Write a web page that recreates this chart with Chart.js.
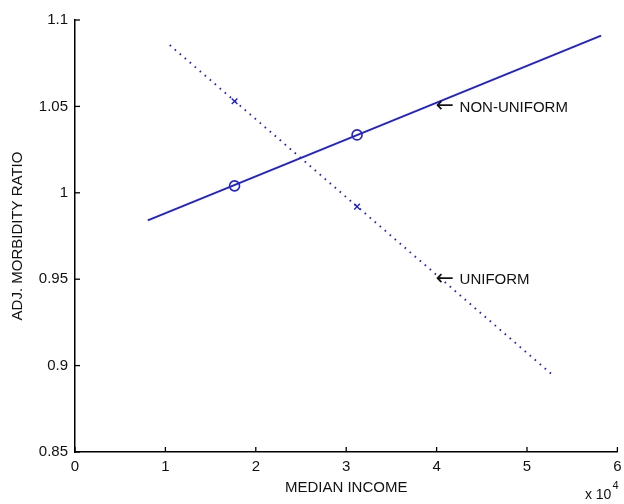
<!DOCTYPE html>
<html>
<head>
<meta charset="utf-8">
<script src="https://cdn.jsdelivr.net/npm/chart.js@4"></script>
<style>
  html, body { margin: 0; padding: 0; background: #fff; }
  #wrap { width: 624px; height: 504px; }
</style>
</head>
<body>
<div id="wrap"><canvas id="myChart"></canvas></div>
<script>
// values (x in units of 10^4)
var nonUniformLineX = [0.805, 5.82];
var nonUniformLineY = [0.984, 1.091];
var nonUniformPtsX = [1.765, 3.12];
var nonUniformPtsY = [1.004, 1.0335];
var uniformLineX = [1.048, 5.305];
var uniformLineY = [1.0855, 0.8936];
var uniformPtsX = [1.765, 3.12];
var uniformPtsY = [1.053, 0.992];
var xTicks = [0, 1, 2, 3, 4, 5, 6];
var yTicks = [0.85, 0.9, 0.95, 1, 1.05, 1.1];
var notes = [
    { text: 'NON-UNIFORM', x: 4.0, y: 1.05 },
    { text: 'UNIFORM', x: 4.0, y: 0.95 }
];

var blue = '#2020d8';
var fontFam = '"Liberation Sans", Arial, "DejaVu Sans", sans-serif';

function pts(xs, ys) {
    var out = [];
    for (let i = 0; i < xs.length; i++) out.push({ x: xs[i], y: ys[i] });
    return out;
}

// inward ticks, annotations and the x10^4 exponent
var extras = {
    id: 'extras',
    afterDraw: function(chart) {
        var ctx = chart.ctx, sx = chart.scales.x, sy = chart.scales.y;
        var area = chart.chartArea;
        ctx.save();
        ctx.strokeStyle = '#000';
        ctx.lineWidth = 1.3;
        xTicks.forEach(function(v) {
            var px = sx.getPixelForValue(v);
            ctx.beginPath();
            ctx.moveTo(px, area.bottom);
            ctx.lineTo(px, area.bottom - 5);
            ctx.stroke();
        });
        yTicks.forEach(function(v) {
            var py = sy.getPixelForValue(v);
            ctx.beginPath();
            ctx.moveTo(area.left, py);
            ctx.lineTo(area.left + 5, py);
            ctx.stroke();
        });

        ctx.fillStyle = '#111';
        ctx.textBaseline = 'middle';
        ctx.textAlign = 'left';
        notes.forEach(function(n) {
            var px = sx.getPixelForValue(n.x), py = sy.getPixelForValue(n.y);
            ctx.font = '22px "DejaVu Sans", sans-serif';
            ctx.fillText('\u2190', px - 1, py);
            ctx.font = '15px ' + fontFam;
            ctx.fillText(n.text, px + 23, py + 1);
        });

        // x 10^4 under the right end of the axis
        ctx.textAlign = 'right';
        ctx.font = '14px ' + fontFam;
        ctx.fillText('x 10', area.right - 6, 495);
        ctx.font = '11px ' + fontFam;
        ctx.textAlign = 'left';
        ctx.fillText('4', area.right - 5, 486);
        ctx.restore();
    }
};

new Chart('myChart', {
    type: 'scatter',
    data: {
        datasets: [
            {
                label: 'NON-UNIFORM',
                data: pts(nonUniformLineX, nonUniformLineY),
                showLine: true,
                borderColor: blue,
                borderWidth: 2,
                pointRadius: 0
            },
            {
                label: 'NON-UNIFORM points',
                data: pts(nonUniformPtsX, nonUniformPtsY),
                pointStyle: 'circle',
                pointRadius: 5,
                borderColor: blue,
                borderWidth: 1.6,
                backgroundColor: 'rgba(0,0,0,0)'
            },
            {
                label: 'UNIFORM',
                data: pts(uniformLineX, uniformLineY),
                showLine: true,
                borderColor: blue,
                borderWidth: 1.9,
                borderDash: [1.6, 5],
                pointRadius: 0
            },
            {
                label: 'UNIFORM points',
                data: pts(uniformPtsX, uniformPtsY),
                pointStyle: 'crossRot',
                pointRadius: 4,
                borderColor: blue,
                borderWidth: 1.4
            }
        ]
    },
    options: {
        responsive: true,
        maintainAspectRatio: false,
        animation: false,
        layout: { padding: { top: 20, right: 5, left: 0, bottom: 0 } },
        plugins: {
            legend: { display: false },
            tooltip: { enabled: false }
        },
        scales: {
            x: {
                type: 'linear',
                min: 0,
                max: 6,
                afterBuildTicks: function(scale) {
                    scale.ticks = xTicks.map(function(v) { return { value: v }; });
                },
                afterFit: function(scale) {
                    scale.height = 52;
                    scale.paddingRight = 0;
                    scale.paddingLeft = 0;
                },
                grid: { display: false, drawTicks: false, tickLength: 0 },
                border: { display: true, color: '#000', width: 1.5 },
                ticks: {
                    color: '#111',
                    padding: 6,
                    maxRotation: 0,
                    font: { family: fontFam, size: 15 }
                },
                title: {
                    display: true,
                    text: 'MEDIAN INCOME',
                    color: '#111',
                    padding: { top: 0, bottom: 7 },
                    font: { family: fontFam, size: 15 }
                }
            },
            y: {
                type: 'linear',
                min: 0.85,
                max: 1.1,
                afterBuildTicks: function(scale) {
                    scale.ticks = yTicks.map(function(v) { return { value: v }; });
                },
                afterFit: function(scale) { scale.width = 75; },
                grid: { display: false, drawTicks: false, tickLength: 0 },
                border: { display: true, color: '#000', width: 1.5 },
                ticks: {
                    color: '#111',
                    padding: 7,
                    font: { family: fontFam, size: 15 },
                    callback: function(v) { return String(Math.round(v * 100) / 100); }
                },
                title: {
                    display: true,
                    text: 'ADJ. MORBIDITY RATIO',
                    color: '#111',
                    padding: { top: 9, bottom: 0 },
                    font: { family: fontFam, size: 15 }
                }
            }
        }
    },
    plugins: [extras]
});
</script>
</body>
</html>
